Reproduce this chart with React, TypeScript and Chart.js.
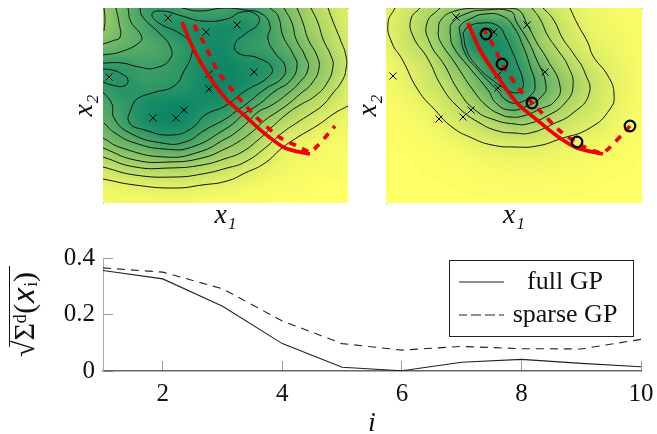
import React, { useEffect, useRef } from "react";
import { Chart, registerables } from "chart.js";

Chart.register(...registerables);

type P = [number, number];
const SERIF = '"Liberation Serif", serif';

// ---------- Left panel (full GP): x1 in 0..245, x2 in 0..195 ----------
const heatLeft: number[][] = [
  [3.8, 5.4, 7.1, 7.5, 7, 6.9, 7, 7.4, 6.6, 4.9, 3.3, 2.05, 1.2],
  [4.0, 5.3, 6.7, 7.9, 8.4, 8.3, 8.5, 8.2, 7.2, 5.5, 3.7, 2.5, 1.3],
  [5.3, 5.8, 6.3, 6.9, 7.8, 8.6, 8.6, 7.7, 7.2, 6, 4.5, 3, 1.7],
  [7.6, 7.6, 7.1, 7.3, 7.9, 8.7, 8.9, 8.5, 8.1, 7, 5.1, 3.5, 1.9],
  [7.5, 8, 7.6, 7.8, 8.1, 8.8, 8.9, 8.4, 7.2, 5.8, 4.2, 3, 1.4],
  [6.6, 7.5, 8.4, 8.8, 8.9, 8.5, 8, 6.9, 5.5, 4, 2.7, 1.8, 1],
  [5.8, 7, 8.2, 8.7, 8.5, 7.4, 6.3, 4.8, 3.4, 2.3, 1.5, 0.8, 0.5],
  [4.4, 5.3, 6, 6.9, 6.8, 5.6, 4.3, 3.5, 2, 0.9, 0.5, 0.3, 0.2],
  [2.3, 3, 3.4, 3.6, 3.6, 3, 2.4, 1.8, 1, 0.5, 0.3, 0.2, 0.1],
  [0.8, 1, 1.2, 1.3, 1.3, 1.1, 0.9, 0.6, 0.35, 0.2, 0.1, 0, 0],
  [0.3, 0.3, 0.3, 0.3, 0.3, 0.2, 0.1, 0.05, 0, 0, 0, 0, 0],
];

const contoursLeft: P[][] = [
  [[0,24],[32,18],[72,15],[99,18],[124,22],[142,30],[162,40],[179,55],[195,66],[215,78],[232,90],[245,97]],
  [[0,36],[32,28],[72,26],[99,29],[124,35],[142,41],[162,55],[179,70],[195,81],[209,90],[220,98],[230,110],[239,122],[243,134],[243,147],[237,164],[229,184],[225,195]],
  [[0,46],[32,36],[66,35],[99,38],[124,45],[139,51],[155,63],[169,76],[185,90],[197,98],[212,107],[224,120],[230,137],[228,147],[220,164],[215,180],[208,195]],
  [[0,55],[32,43],[66,41],[99,45],[124,55],[135,61],[149,71],[162,83],[174,91],[184,98],[197,109],[209,120],[216,135],[214,147],[205,164],[200,180],[194,195]],
  [[0,65],[19,55],[62,46],[96,51],[124,65],[132,70],[145,81],[155,91],[169,98],[184,109],[195,119],[205,134],[202,147],[193,164],[189,180],[181,195]],
  [[1,80],[12,70],[32,60],[62,54],[89,56],[124,75],[132,81],[142,90],[155,98],[172,112],[187,122],[194,137],[190,149],[180,167],[175,187],[167,195]],
  [[0,111],[9,99],[11,85],[27,70],[59,60],[82,61],[102,73],[124,85],[132,91],[142,98],[162,114],[179,125],[182,137],[172,150],[165,164],[167,177],[159,189],[142,193],[122,195],[96,192],[79,195]],
  [[29,97],[34,104],[49,110],[71,117],[81,132],[89,150],[87,160],[76,170],[56,180],[49,189],[59,192],[79,187],[99,182],[124,184],[139,191],[154,188],[155,179],[142,169],[132,159],[135,150],[155,145],[169,135],[164,125],[142,112],[122,97],[102,88],[89,75],[69,68],[42,73],[26,81],[29,97]],
  [[0,140],[19,140],[36,136],[52,135],[67,144],[67,157],[56,170],[39,187],[37,195]],
  [[0,148],[17,151],[37,161],[38,168],[28,181],[25,195]],
  [[0,159],[9,162],[17,166],[16,180],[13,195]],
  [[1,172],[2,184],[1,195]],
  [[0,134],[9,133],[19,129],[25,123],[21,117],[9,118],[0,121]],
];

const crossesLeft: P[] = [[65,185],[103,171],[106,129],[106,114],[6,126],[134,178],[151,131],[50,85],[73,85],[81,93]];
const meanFullLeft: P[] = [[79,181],[91,153],[106,127],[124,103],[141,88],[161,70],[182,55],[207,49]];
const meanSparseLeft: P[] = [[91,178],[101,160],[114,133],[134,107],[154,85],[176,66],[194,57],[208,51],[232,77]];

// ---------- Right panel (sparse GP): x1 in 0..256, x2 in 0..195 ----------
const heatRight: number[][] = [
  [0.8, 1.5, 2.5, 3.4, 3.9, 4, 3.9, 2.8, 1.5, 0.8, 0.4, 0.2, 0.1],
  [0.9, 1.8, 3, 4.4, 7, 7.2, 6, 3.6, 2.05, 1, 0.5, 0.3, 0.1],
  [0.7, 1.7, 2.6, 4.4, 7.4, 7.8, 6.9, 4.1, 2.4, 1.4, 0.8, 0.4, 0.15],
  [0.4, 1, 1.8, 3.5, 5, 7.5, 7.3, 5.4, 3.4, 2.1, 1.2, 0.6, 0.2],
  [0.25, 0.7, 1.5, 2.4, 4, 6, 7.5, 6, 4.2, 2.7, 1.5, 0.7, 0.2],
  [0.1, 0.35, 0.85, 1.75, 2.8, 4.2, 5.8, 4.8, 3.2, 2.1, 1.3, 0.6, 0.15],
  [0.05, 0.15, 0.4, 1, 1.7, 2.4, 3, 2.6, 1.9, 1.3, 0.95, 0.35, 0.1],
  [0, 0.05, 0.15, 0.35, 0.7, 1, 1.1, 1.1, 0.85, 0.55, 0.3, 0.15, 0.05],
  [0, 0, 0.05, 0.1, 0.2, 0.35, 0.45, 0.45, 0.35, 0.25, 0.1, 0.05, 0],
  [0, 0, 0, 0.02, 0.05, 0.1, 0.12, 0.12, 0.1, 0.06, 0.02, 0, 0],
  [0, 0, 0, 0, 0, 0, 0, 0, 0, 0, 0, 0, 0],
];

const contoursRight: P[][] = [
  [[9,195],[2,180],[6,160],[16,144],[32,113],[49,93],[66,76],[86,65],[106,58],[129,56],[151,57],[174,64],[204,75],[224,94],[228,109],[222,127],[207,147],[202,160],[191,180],[184,195]],
  [[34,195],[25,184],[27,167],[42,144],[56,116],[72,96],[92,81],[112,72],[129,70],[144,70],[167,79],[187,90],[203,109],[199,130],[187,150],[177,164],[167,184],[157,195]],
  [[54,195],[41,180],[44,160],[59,137],[72,113],[89,93],[109,83],[129,79],[141,79],[161,87],[179,100],[187,117],[182,137],[171,154],[162,167],[154,184],[146,195]],
  [[52,170],[55,183],[69,192],[92,195],[112,195],[131,194],[142,177],[151,160],[161,144],[174,117],[169,102],[154,94],[137,87],[124,86],[116,88],[102,96],[87,113],[69,140],[54,162],[52,170]],
  [[64,170],[66,180],[82,190],[99,193],[124,192],[131,180],[141,164],[149,147],[160,117],[154,105],[141,97],[124,93],[110,100],[102,113],[82,137],[67,157],[64,170]],
  [[74,170],[74,177],[86,185],[99,189],[116,187],[127,177],[137,157],[144,137],[149,117],[144,107],[131,100],[120,103],[112,112],[92,133],[79,150],[74,170]],
  [[77,170],[82,176],[96,180],[112,177],[120,165],[126,152],[131,140],[137,122],[136,114],[130,110],[120,114],[105,124],[91,137],[81,152],[77,170]],
];

const crossesRight: P[] = [[70,186],[108,171],[141,178],[7,127],[159,131],[112,128],[112,115],[85,93],[77,86],[53,84]];
const meanFullRight: P[] = [[82,180],[94,153],[111,127],[131,100],[151,83],[171,67],[191,55],[217,49]];
const meanSparseRight: P[] = [[97,175],[106,160],[117,137],[134,113],[154,92],[174,72],[194,58],[217,50],[244,77]];
const inducing: P[] = [[100,169],[116,139],[146,100],[191,61],[244,77]];

// ---------- Bottom panel ----------
const stepIndex = [1, 2, 3, 4, 5, 6, 7, 8, 9, 10];
const fullGP = [0.356, 0.326, 0.229, 0.097, 0.013, 0.001, 0.031, 0.041, 0.027, 0.015];
const sparseGP = [0.365, 0.35, 0.291, 0.177, 0.097, 0.074, 0.087, 0.079, 0.078, 0.112];
const xTicks = [2, 4, 6, 8, 10];
const yTicks = [0, 0.2, 0.4];
const legendNames = ["full GP", "sparse GP"];

// ---------- helpers ----------
const cr = (a: number, b: number, c: number, d: number, t: number) =>
  b + 0.5 * t * (c - a + t * (2 * a - 5 * b + 4 * c - d + t * (3 * (b - c) + d - a)));

const noPad = (s: any) => {
  s.paddingLeft = 0;
  s.paddingRight = 0;
  s.paddingTop = 0;
  s.paddingBottom = 0;
};

function heatPlugin(grid: number[][], gain: number) {
  return {
    id: "heat",
    beforeDatasetsDraw(chart: any) {
      const { ctx, chartArea: a, scales } = chart;
      const sx = scales.x;
      const sy = scales.y;
      const w = Math.round(a.right - a.left);
      const h = Math.round(a.bottom - a.top);
      const off = document.createElement("canvas");
      off.width = w;
      off.height = h;
      const octx = off.getContext("2d")!;
      const img = octx.createImageData(w, h);
      const rows = grid.length;
      const cols = grid[0].length;
      const at = (r: number, c: number) =>
        grid[Math.max(0, Math.min(rows - 1, r))][Math.max(0, Math.min(cols - 1, c))];
      for (let j = 0; j < h; j++) {
        const gy = ((sy.max - sy.getValueForPixel(a.top + j + 0.5)) / (sy.max - sy.min)) * (rows - 1);
        const r0 = Math.floor(gy);
        const ty = gy - r0;
        for (let i = 0; i < w; i++) {
          const gx = ((sx.getValueForPixel(a.left + i + 0.5) - sx.min) / (sx.max - sx.min)) * (cols - 1);
          const c0 = Math.floor(gx);
          const tx = gx - c0;
          const line = (r: number) => cr(at(r, c0 - 1), at(r, c0), at(r, c0 + 1), at(r, c0 + 2), tx);
          const lvl = Math.max(0, cr(line(r0 - 1), line(r0), line(r0 + 1), line(r0 + 2), ty));
          const t = Math.min(1, lvl * gain + (lvl > 0.01 ? 0.01 : 0));
          const k = (j * w + i) * 4;
          img.data[k] = 255 * (1 - t);
          img.data[k + 1] = 128 + 127 * (1 - t);
          img.data[k + 2] = 102;
          img.data[k + 3] = 255;
        }
      }
      octx.putImageData(img, 0, 0);
      ctx.drawImage(off, a.left, a.top);
    },
  };
}

const pts = (list: P[]) => list.map(([x, y]) => ({ x, y }));

function panelConfig(
  contours: P[][],
  crosses: P[],
  full: P[],
  sparse: P[],
  circles: P[],
  grid: number[][],
  gain: number,
  xMax: number,
  yAxisWidth: number,
  titlePad: number,
  rightPad: number
): any {
  const datasets: any[] = [];
  if (circles.length) {
    datasets.push({ data: pts(circles), showLine: false, pointStyle: "circle", pointRadius: 5.3, borderColor: "#000", borderWidth: 2.2, backgroundColor: "rgba(0,0,0,0)", order: 0 });
  }
  datasets.push({ data: pts(full), showLine: true, borderColor: "#f00000", borderWidth: 3.7, pointRadius: 0, tension: 0.3, order: 1 });
  datasets.push({ data: pts(sparse), showLine: true, borderColor: "#f00000", borderWidth: 3.7, borderDash: [7, 7], pointRadius: 0, tension: 0.15, order: 2 });
  datasets.push({ data: pts(crosses), showLine: false, pointStyle: "crossRot", pointRadius: 5, borderColor: "#000", borderWidth: 1, order: 3 });
  contours.forEach((c) => {
    datasets.push({ data: pts(c), showLine: true, borderColor: "#111", borderWidth: 1, pointRadius: 0, tension: 0.5, order: 4 });
  });
  const titleFont = { family: SERIF, size: 28, style: "italic" };
  return {
    type: "scatter",
    data: { datasets },
    plugins: [heatPlugin(grid, gain)],
    options: {
      animation: false,
      responsive: false,
      layout: { autoPadding: false, padding: { top: 8, right: rightPad, left: 0, bottom: 0 } },
      plugins: { legend: { display: false }, tooltip: { enabled: false } },
      scales: {
        x: {
          type: "linear",
          position: "bottom",
          min: 0,
          max: xMax,
          grid: { display: false },
          border: { display: false },
          ticks: { display: false },
          afterFit: (s: any) => { s.height = 29; noPad(s); },
          title: { display: true, text: "x₁", font: titleFont, color: "#111", padding: { top: 0, bottom: 0 } },
        },
        xTop: {
          type: "linear",
          position: "top",
          min: 0,
          max: xMax,
          grid: { display: false, drawTicks: false },
          border: { display: true, color: "#b4b4b4", width: 1 },
          ticks: { display: false },
          afterFit: (s: any) => { s.height = 0; noPad(s); },
        },
        y: {
          type: "linear",
          min: 0,
          max: 195,
          grid: { display: false },
          border: { display: true, color: "#b4b4b4", width: 1 },
          ticks: { display: false },
          afterFit: (s: any) => { s.width = yAxisWidth; noPad(s); },
          title: { display: true, text: "x₂", font: titleFont, color: "#111", padding: { top: titlePad, bottom: 0 } },
        },
      },
    },
  };
}

function lowerConfig(): any {
  const overlay = {
    id: "overlay",
    afterUpdate(chart: any) {
      const lg = chart.legend;
      if (!lg) return;
      lg.left = 452;
      lg.top = 30;
      lg.right = 613;
      lg.bottom = 130;
      lg.draw = () => lg._draw();
    },
    afterDraw(chart: any) {
      const { ctx } = chart;
      ctx.save();
      ctx.strokeStyle = "#222";
      ctx.lineWidth = 1;
      ctx.strokeRect(449.5, 28.5, 184, 76);
      ctx.strokeStyle = "#111";
      ctx.beginPath();
      ctx.moveTo(9.5, 34);
      ctx.lineTo(9.5, 115);
      ctx.stroke();
      ctx.restore();
    },
  };
  return {
    type: "line",
    data: {
      labels: stepIndex,
      datasets: [
        { label: legendNames[0], data: stepIndex.map((x, i) => ({ x, y: fullGP[i] })), borderColor: "#222", borderWidth: 1.1, pointRadius: 0, tension: 0, backgroundColor: "rgba(0,0,0,0)" },
        { label: legendNames[1], data: stepIndex.map((x, i) => ({ x, y: sparseGP[i] })), borderColor: "#222", borderWidth: 1.1, borderDash: [8, 6], pointRadius: 0, tension: 0, backgroundColor: "rgba(0,0,0,0)" },
      ],
    },
    plugins: [overlay],
    options: {
      animation: false,
      responsive: false,
      layout: { autoPadding: false, padding: { top: 26, right: 16, left: 0, bottom: 0 } },
      plugins: {
        tooltip: { enabled: false },
        legend: {
          display: true,
          position: "chartArea",
          align: "start",
          labels: {
            boxWidth: 45,
            boxHeight: 0,
            padding: 7,
            textAlign: "center",
            color: "#111",
            font: { family: SERIF, size: 26 },
          },
        },
      },
      scales: {
        x: {
          type: "linear",
          min: 1,
          max: 10,
          afterBuildTicks: (s: any) => { s.ticks = xTicks.map((value) => ({ value })); },
          grid: { display: true, drawOnChartArea: false, drawTicks: true, tickLength: -10, color: "#999", lineWidth: 1 },
          border: { display: true, color: "#666", width: 1.5 },
          ticks: { padding: 18, maxRotation: 0, autoSkip: false, color: "#111", font: { family: SERIF, size: 25 } },
          afterFit: (s: any) => { s.height = 63; noPad(s); },
          title: { display: true, text: "i", font: { family: SERIF, size: 28, style: "italic" }, color: "#111", padding: { top: 0, bottom: -6 } },
        },
        y: {
          type: "linear",
          min: 0,
          max: 0.4,
          afterBuildTicks: (s: any) => { s.ticks = yTicks.map((value) => ({ value })); },
          grid: { display: true, drawOnChartArea: false, drawTicks: true, tickLength: -10, color: "#999", lineWidth: 1 },
          border: { display: true, color: "#aaa", width: 1 },
          ticks: { padding: 18, color: "#111", font: { family: SERIF, size: 25 }, callback: (v: number) => (v === 0 ? "0" : v.toFixed(1)) },
          afterFit: (s: any) => { s.width = 103; noPad(s); },
          title: { display: true, text: "√Σᵈ(𝑥ᵢ)", font: { family: SERIF, size: 30 }, color: "#111", padding: { top: 8, bottom: 0 } },
        },
      },
    },
  };
}

function ChartCanvas({ config, left, top, width, height }: any) {
  const ref = useRef<HTMLCanvasElement>(null);
  useEffect(() => {
    const chart = new Chart(ref.current!, config());
    return () => chart.destroy();
  }, []);
  return (
    <canvas
      ref={ref}
      width={width}
      height={height}
      style={{ position: "absolute", left, top, width, height, display: "block" }}
    />
  );
}

export default function App() {
  useEffect(() => {
    document.body.style.margin = "0";
    document.body.style.background = "#fff";
  }, []);
  return (
    <div style={{ position: "relative", width: 657, height: 434, overflow: "hidden" }}>
      <ChartCanvas
        left={60}
        top={0}
        width={292}
        height={232}
        config={() => panelConfig(contoursLeft, crossesLeft, meanFullLeft, meanSparseLeft, [], heatLeft, 0.105, 245, 43, 8, 4)}
      />
      <ChartCanvas
        left={352}
        top={0}
        width={300}
        height={232}
        config={() => panelConfig(contoursRight, crossesRight, meanFullRight, meanSparseRight, inducing, heatRight, 0.115, 256, 34, 0, 10)}
      />
      <ChartCanvas left={0} top={232} width={657} height={202} config={lowerConfig} />
    </div>
  );
}
